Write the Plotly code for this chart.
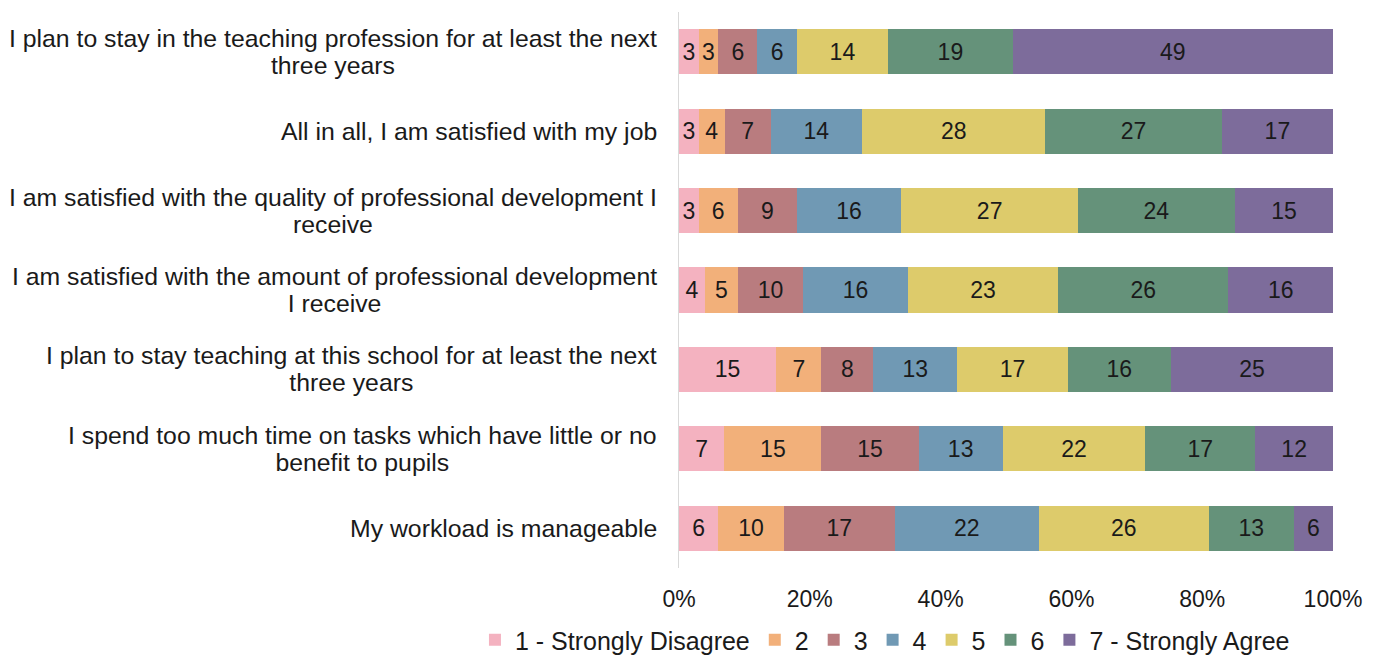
import plotly.graph_objects as go

statements = [
    "I plan to stay in the teaching profession for at least the next<br>three years",
    "All in all, I am satisfied with my job",
    "I am satisfied with the quality of professional development I<br>receive",
    "I am satisfied with the amount of professional development<br>I receive",
    "I plan to stay teaching at this school for at least the next<br>three years",
    "I spend too much time on tasks which have little or no<br>benefit to pupils",
    "My workload is manageable",
]

series_names = ["1 - Strongly Disagree", "2", "3", "4", "5", "6", "7 - Strongly Agree"]

v1 = [3, 3, 3, 4, 15, 7, 6]
v2 = [3, 4, 6, 5, 7, 15, 10]
v3 = [6, 7, 9, 10, 8, 15, 17]
v4 = [6, 14, 16, 16, 13, 13, 22]
v5 = [14, 28, 27, 23, 17, 22, 26]
v6 = [19, 27, 24, 26, 16, 17, 13]
v7 = [49, 17, 15, 16, 25, 12, 6]
series_values = [v1, v2, v3, v4, v5, v6, v7]

x_ticks = [0, 20, 40, 60, 80, 100]

colors = ["#F4B2C0", "#F2B07A", "#B97C7F", "#7099B4", "#DDCB6B", "#65927A", "#7D6C9B"]

FONT = "Liberation Sans, Arial, sans-serif"
TXT = "#1a1a1a"
FS = 24.8

fig = go.Figure()
for name, vals, col in zip(series_names, series_values, colors):
    fig.add_trace(go.Bar(
        y=list(range(len(statements))),
        x=vals,
        name=name,
        orientation="h",
        marker=dict(color=col, line=dict(width=0)),
        text=[str(v) for v in vals],
        textposition="inside",
        insidetextanchor="middle",
        textangle=0,
        textfont=dict(family=FONT, size=23, color=TXT),
        hoverinfo="skip",
    ))

for i, s in enumerate(statements):
    styled = "<br>".join(f'<span style="font-size:{FS}px">{ln}</span>' for ln in s.split("<br>"))
    fig.add_annotation(
        x=0, xref="paper", y=i, yref="y",
        text=styled, showarrow=False, xanchor="right", yanchor="middle",
        align="center", xshift=-20,
        font=dict(family=FONT, size=21, color=TXT),
    )

fig.update_layout(
    barmode="stack",
    barnorm="percent",
    bargap=0.43,
    width=1381, height=655,
    margin=dict(l=671, r=56, t=4, b=95, autoexpand=False),
    paper_bgcolor="white", plot_bgcolor="white",
    font=dict(family=FONT, size=FS, color=TXT),
    uniformtext=dict(minsize=23, mode="show"),
    showlegend=True,
    legend=dict(
        orientation="h", x=-0.312, xanchor="left", y=-0.1295, yanchor="middle",
        traceorder="normal", font=dict(family=FONT, size=25, color=TXT),
        itemclick=False, itemdoubleclick=False,
    ),
    xaxis=dict(
        range=[0, 100], tickvals=x_ticks, ticktext=[f"{t}%" for t in x_ticks],
        showgrid=False, zeroline=False, showline=False, ticks="",
        tickfont=dict(family=FONT, size=23, color=TXT), ticklabelstandoff=15,
        automargin=False,
    ),
    yaxis=dict(
        range=[6.5, -0.5], showticklabels=False, showgrid=False, zeroline=False,
        showline=True, linecolor="#D9D9D9", linewidth=1, ticks="",
        automargin=False,
    ),
)

fig.write_html("out.html")
